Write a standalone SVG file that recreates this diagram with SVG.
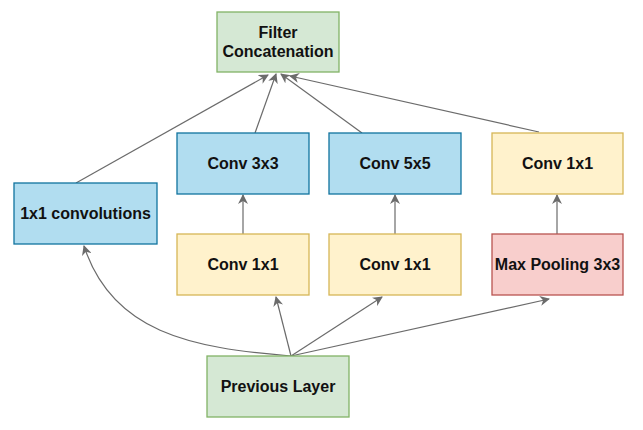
<svg xmlns="http://www.w3.org/2000/svg" width="643" height="430" viewBox="0 0 643 430">
<style>
.n rect{stroke-width:1.3}
.green{fill:#d5e8d4;stroke:#82b366}
.blue{fill:#b1ddf0;stroke:#10739e}
.yellow{fill:#fff2cc;stroke:#d6b656}
.red{fill:#f8cecc;stroke:#b85450}
text{font-family:"Liberation Sans",Arial,sans-serif;font-weight:bold;font-size:16px;fill:#111;text-anchor:middle}
.e path{fill:none;stroke:#6b6b6b;stroke-width:1.2;marker-end:url(#ah)}
</style>
<defs>
<marker id="ah" viewBox="0 0 10 10" refX="9" refY="5" markerWidth="10" markerHeight="10" markerUnits="userSpaceOnUse" orient="auto">
<path d="M0,0 L10,5 L0,10 L3,5 Z" fill="#6b6b6b" stroke="none"/>
</marker>
</defs>
<rect width="643" height="430" fill="#ffffff"/>
<g class="e" id="connectors">
<path d="M291,356 C190,348 112,332 84,246"/>
<path d="M291,356 L276,297"/>
<path d="M291,356 L382,297"/>
<path d="M291,356 L549,299"/>
<path d="M243,234 L243,195"/>
<path d="M395,234 L395,195"/>
<path d="M557,234 L557,195"/>
<path d="M76,183 L268,75"/>
<path d="M255,133 L276,74"/>
<path d="M362,133 L281,74"/>
<path d="M539,132 L290,76"/>
</g>
<g class="n" id="filter-concat"><rect class="green" x="217" y="12" width="122" height="60"/><text x="278" y="38">Filter</text><text x="278" y="57">Concatenation</text></g>
<g class="n" id="conv1x1-direct"><rect class="blue" x="14" y="183" width="143" height="61"/><text x="85.5" y="219">1x1 convolutions</text></g>
<g class="n" id="conv3x3"><rect class="blue" x="177" y="133" width="132" height="61"/><text x="243" y="169">Conv 3x3</text></g>
<g class="n" id="conv5x5"><rect class="blue" x="329" y="133" width="132" height="61"/><text x="395" y="169">Conv 5x5</text></g>
<g class="n" id="conv1x1-pool"><rect class="yellow" x="492" y="133" width="131" height="61"/><text x="557.5" y="169">Conv 1x1</text></g>
<g class="n" id="conv1x1-a"><rect class="yellow" x="177" y="234" width="132" height="61"/><text x="243" y="270">Conv 1x1</text></g>
<g class="n" id="conv1x1-b"><rect class="yellow" x="329" y="234" width="132" height="61"/><text x="395" y="270">Conv 1x1</text></g>
<g class="n" id="maxpool"><rect class="red" x="492" y="234" width="131" height="61"/><text x="557.5" y="270">Max Pooling 3x3</text></g>
<g class="n" id="previous-layer"><rect class="green" x="207" y="356" width="142" height="61"/><text x="278" y="392">Previous Layer</text></g>
</svg>
